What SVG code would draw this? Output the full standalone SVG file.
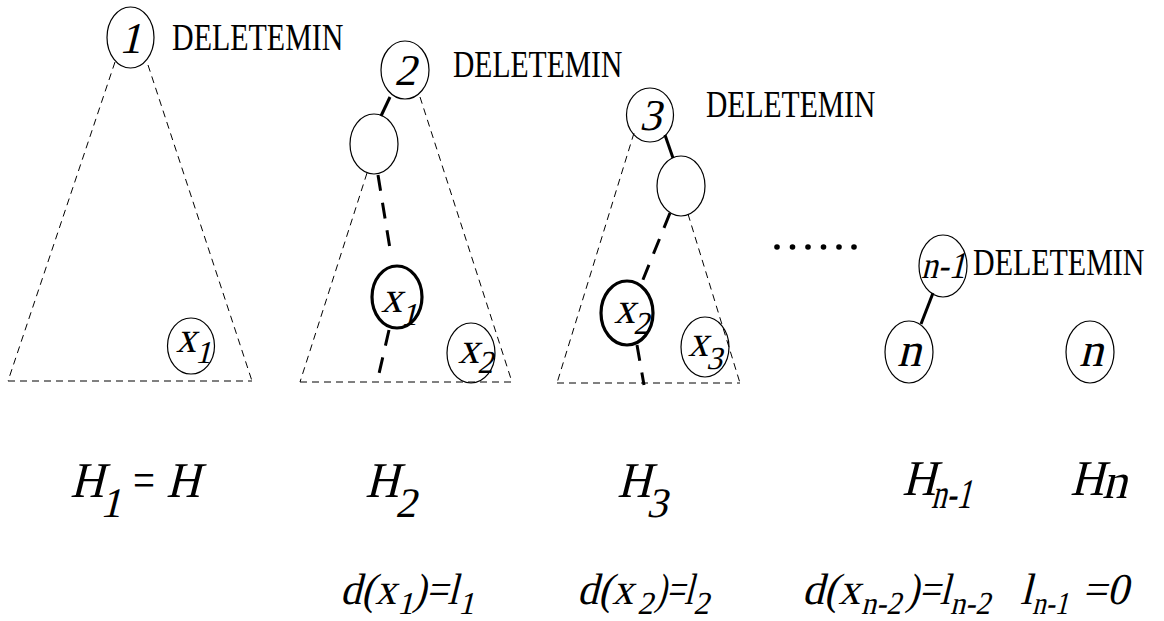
<svg xmlns="http://www.w3.org/2000/svg" width="1164" height="621" viewBox="0 0 1164 621">
<style>
  .bg { fill: #ffffff; }
  .nd { fill: none; stroke: #000; stroke-width: 1.2; }
  .ndb { fill: none; stroke: #000; stroke-width: 3.2; }
  .thin { fill: none; stroke: #000; stroke-width: 1; stroke-dasharray: 7 5; }
  .thick { fill: none; stroke: #000; stroke-width: 3; stroke-dasharray: 16 12; }
  .solid { fill: none; stroke: #000; stroke-width: 3; }
  .dm { font-family: "Liberation Serif", "Times New Roman", serif; font-size: 37px; fill: #000; }
  .it { font-family: "Liberation Serif", "Times New Roman", serif; font-style: normal; fill: #000; }
  .lbl { font-size: 44px; }
  .sub { font-size: 32px; }
  .big { font-size: 50px; }
  .bsub { font-size: 42px; }
  .mid { font-size: 44px; }
  .msub { font-size: 32px; }
</style>
<rect class="bg" x="0" y="0" width="1164" height="621"/>

<g id="connectors">
  <line class="thin" x1="115" y1="62" x2="8" y2="381"/>
  <line class="thin" x1="148" y1="65" x2="252" y2="381"/>
  <line class="thin" x1="8" y1="381" x2="252" y2="381"/>
  <line class="thin" x1="367" y1="173" x2="300" y2="382"/>
  <line class="thin" x1="420" y1="97" x2="512" y2="382"/>
  <line class="thin" x1="300" y1="382" x2="512" y2="382"/>
  <line class="solid" x1="390" y1="97" x2="381" y2="116"/>
  <line class="thick" x1="378" y1="175" x2="391" y2="255"/>
  <line class="thick" x1="389" y1="330" x2="378" y2="378"/>
  <line class="thin" x1="634" y1="133" x2="557" y2="383"/>
  <line class="thin" x1="688" y1="214" x2="740" y2="383"/>
  <line class="thin" x1="557" y1="383" x2="740" y2="383"/>
  <line class="solid" x1="665" y1="135" x2="673" y2="158"/>
  <line class="thick" x1="670" y1="213" x2="642" y2="282"/>
  <line class="thick" x1="637" y1="345" x2="644" y2="385"/>
  <line class="solid" x1="933" y1="293" x2="921" y2="324"/>
</g>

<g id="node-1">
  <ellipse class="nd" cx="130.5" cy="37.5" rx="23.5" ry="30.5"/>
  <text class="it lbl" transform="translate(130,53) skewX(-14)" text-anchor="middle">1</text>
</g>
<g id="label-del-1"><text class="dm" transform="translate(172,50) scale(0.81,1)">DELETEMIN</text></g>
<g id="node-x1-t1">
  <ellipse class="nd" cx="191" cy="346" rx="23.5" ry="28"/>
  <text class="it lbl" transform="translate(176,352) skewX(-14)" textLength="20" lengthAdjust="spacingAndGlyphs">x</text>
  <text class="it sub" transform="translate(195,363) skewX(-14)">1</text>
</g>

<g id="node-2">
  <ellipse class="nd" cx="405" cy="70" rx="24" ry="29"/>
  <text class="it lbl" transform="translate(405,85) skewX(-14)" text-anchor="middle">2</text>
</g>
<g id="label-del-2"><text class="dm" transform="translate(453,77) scale(0.80,1)">DELETEMIN</text></g>
<g id="node-e2">
  <ellipse class="nd" cx="374" cy="144" rx="24" ry="30"/>
</g>
<g id="node-x1-t2">
  <ellipse class="ndb" cx="397" cy="297" rx="25" ry="31"/>
  <text class="it lbl" transform="translate(381,312) skewX(-14)" textLength="21" lengthAdjust="spacingAndGlyphs">x</text>
  <text class="it sub" transform="translate(401,325) skewX(-14)">1</text>
</g>
<g id="node-x2-t2">
  <ellipse class="nd" cx="471" cy="353" rx="24" ry="30"/>
  <text class="it lbl" transform="translate(458,363) skewX(-14)" textLength="21" lengthAdjust="spacingAndGlyphs">x</text>
  <text class="it sub" transform="translate(477,373) skewX(-14)">2</text>
</g>

<g id="node-3">
  <ellipse class="nd" cx="650" cy="115" rx="23.5" ry="27"/>
  <text class="it lbl" transform="translate(650,130) skewX(-14)" text-anchor="middle">3</text>
</g>
<g id="label-del-3"><text class="dm" transform="translate(706,117) scale(0.80,1)">DELETEMIN</text></g>
<g id="node-e3">
  <ellipse class="nd" cx="681" cy="186" rx="24" ry="30"/>
</g>
<g id="node-x2-t3">
  <ellipse class="ndb" cx="627" cy="313" rx="26" ry="32"/>
  <text class="it lbl" transform="translate(614,323) skewX(-14)" textLength="21" lengthAdjust="spacingAndGlyphs">x</text>
  <text class="it sub" transform="translate(633,334) skewX(-14)">2</text>
</g>
<g id="node-x3-t3">
  <ellipse class="nd" cx="705" cy="347" rx="24" ry="30"/>
  <text class="it lbl" transform="translate(688,356) skewX(-14)" textLength="20" lengthAdjust="spacingAndGlyphs">x</text>
  <text class="it sub" transform="translate(706,369) skewX(-14)">3</text>
</g>

<g id="dots">
  <circle cx="777" cy="247" r="2.8"/>
  <circle cx="792.5" cy="247" r="2.8"/>
  <circle cx="808" cy="247" r="2.8"/>
  <circle cx="823.5" cy="247" r="2.8"/>
  <circle cx="839" cy="247" r="2.8"/>
  <circle cx="854" cy="247" r="2.8"/>
</g>

<g id="node-n-1">
  <ellipse class="nd" cx="943" cy="266" rx="24" ry="31"/>
  <text class="it" font-size="38" transform="translate(943,278) skewX(-14)" text-anchor="middle" textLength="44" lengthAdjust="spacingAndGlyphs">n-1</text>
</g>
<g id="label-del-4"><text class="dm" transform="translate(973,275) scale(0.81,1)">DELETEMIN</text></g>
<g id="node-n-a">
  <ellipse class="nd" cx="909" cy="352" rx="24" ry="31"/>
  <text class="it" font-size="48" transform="translate(909,366) skewX(-14)" text-anchor="middle">n</text>
</g>
<g id="node-n-b">
  <ellipse class="nd" cx="1090" cy="352" rx="24" ry="31"/>
  <text class="it" font-size="48" transform="translate(1091,366) skewX(-14)" text-anchor="middle">n</text>
</g>

<g id="heap-labels">
  <text class="it big" transform="translate(70,497) skewX(-14)" textLength="34" lengthAdjust="spacingAndGlyphs">H</text>
  <text class="it bsub" transform="translate(100,517) skewX(-14)">1</text>
  <text class="it big" transform="translate(133,497)" textLength="22" lengthAdjust="spacingAndGlyphs">=</text>
  <text class="it big" transform="translate(166,497) skewX(-14)" textLength="34" lengthAdjust="spacingAndGlyphs">H</text>

  <text class="it big" transform="translate(365,497) skewX(-14)" textLength="34" lengthAdjust="spacingAndGlyphs">H</text>
  <text class="it bsub" transform="translate(395,517) skewX(-14)">2</text>

  <text class="it big" transform="translate(617,497) skewX(-14)" textLength="34" lengthAdjust="spacingAndGlyphs">H</text>
  <text class="it bsub" transform="translate(646,517) skewX(-14)">3</text>

  <text class="it big" transform="translate(902,495) skewX(-14)" textLength="34" lengthAdjust="spacingAndGlyphs">H</text>
  <text class="it bsub" transform="translate(931,508) skewX(-14)" textLength="40" lengthAdjust="spacingAndGlyphs">n-1</text>

  <text class="it big" transform="translate(1070,495) skewX(-14)" textLength="34" lengthAdjust="spacingAndGlyphs">H</text>
  <text class="it big" transform="translate(1102,498) skewX(-14)">n</text>
</g>

<g id="depth-labels">
  <text class="it mid" transform="translate(340,604) skewX(-14)" textLength="56" lengthAdjust="spacingAndGlyphs">d(x</text>
  <text class="it msub" transform="translate(397,614) skewX(-14)">1</text>
  <text class="it mid" transform="translate(413,604) skewX(-14)" textLength="45" lengthAdjust="spacingAndGlyphs">)=l</text>
  <text class="it msub" transform="translate(458,614) skewX(-14)">1</text>

  <text class="it mid" transform="translate(577,604) skewX(-14)" textLength="56" lengthAdjust="spacingAndGlyphs">d(x</text>
  <text class="it msub" transform="translate(637,614) skewX(-14)">2</text>
  <text class="it mid" transform="translate(655,604) skewX(-14)" textLength="38" lengthAdjust="spacingAndGlyphs">)=l</text>
  <text class="it msub" transform="translate(693,614) skewX(-14)">2</text>

  <text class="it mid" transform="translate(802,604) skewX(-14)" textLength="58" lengthAdjust="spacingAndGlyphs">d(x</text>
  <text class="it msub" transform="translate(861,614) skewX(-14)" textLength="40" lengthAdjust="spacingAndGlyphs">n-2</text>
  <text class="it mid" transform="translate(906,604) skewX(-14)" textLength="44" lengthAdjust="spacingAndGlyphs">)=l</text>
  <text class="it msub" transform="translate(950,614) skewX(-14)" textLength="40" lengthAdjust="spacingAndGlyphs">n-2</text>

  <text class="it mid" transform="translate(1020,604) skewX(-14)">l</text>
  <text class="it msub" transform="translate(1032,614) skewX(-14)" textLength="36" lengthAdjust="spacingAndGlyphs">n-1</text>
  <text class="it mid" transform="translate(1082,604) skewX(-14)" textLength="46" lengthAdjust="spacingAndGlyphs">=0</text>
</g>
</svg>
